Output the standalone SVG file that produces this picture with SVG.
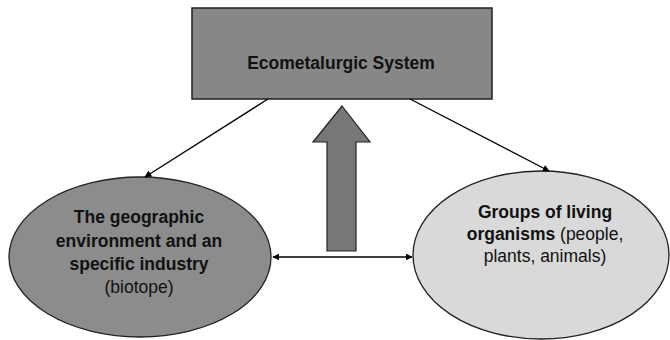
<svg xmlns="http://www.w3.org/2000/svg" width="670" height="340" viewBox="0 0 670 340">
<defs>
<marker id="ah" viewBox="0 0 10 10" refX="9" refY="5" markerWidth="7" markerHeight="7" orient="auto-start-reverse" markerUnits="userSpaceOnUse">
<path d="M0,0 L10,5 L0,10 z" fill="#000"/>
</marker>
<style>
.t{font-family:"Liberation Sans",Arial,sans-serif;font-size:17.5px;fill:#111;text-anchor:middle}
.b{font-weight:bold}
.c{stroke:#000;stroke-width:1.3;fill:none;marker-end:url(#ah)}
</style>
</defs>
<rect width="670" height="340" fill="#fff"/>
<g id="system">
<rect x="192" y="8" width="300" height="91" fill="#878787" stroke="#222" stroke-width="1.5"/>
<text class="t b" x="341" y="69">Ecometalurgic System</text>
</g>
<g id="biotope">
<ellipse cx="140" cy="257" rx="131" ry="80" fill="#8c8c8c" stroke="#222" stroke-width="1.3"/>
<text class="t b" x="139" y="223">The geographic</text>
<text class="t b" x="139" y="247">environment and an</text>
<text class="t b" x="139" y="270">specific industry</text>
<text class="t" x="139" y="293">(biotope)</text>
</g>
<g id="organisms">
<ellipse cx="541" cy="255" rx="128" ry="84" fill="#d9d9d9" stroke="#222" stroke-width="1.3"/>
<text class="t" x="545" y="218"><tspan class="b">Groups of living</tspan></text>
<text class="t" x="545" y="240"><tspan class="b">organisms</tspan> (people,</text>
<text class="t" x="545" y="262">plants, animals)</text>
</g>
<g id="flow">
<path d="M342,106 L370,142 L356,142 L356,251 L327,251 L327,142 L313,142 Z" fill="#777" stroke="#222" stroke-width="1.2"/>
</g>
<g id="connectors">
<line class="c" x1="268" y1="99" x2="145" y2="177"/>
<line class="c" x1="410" y1="99" x2="549" y2="171"/>
<line class="c" x1="273" y1="257" x2="412" y2="257" marker-start="url(#ah)"/>
</g>
</svg>
